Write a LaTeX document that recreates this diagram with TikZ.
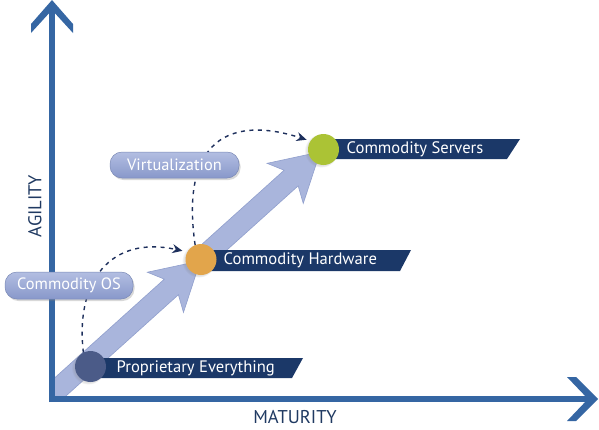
\documentclass[tikz,border=0pt]{standalone}
\usepackage{fontspec}
\setmainfont{PT Sans}
\usetikzlibrary{arrows.meta,shadows}
\definecolor{axisblue}{HTML}{3566A3}
\definecolor{banner}{HTML}{1B3868}
\definecolor{navytext}{HTML}{203A62}
\definecolor{dashnavy}{HTML}{1D2F5C}
\definecolor{dotone}{HTML}{4B5B88}
\definecolor{dottwo}{HTML}{E2A54B}
\definecolor{dotthree}{HTML}{ABC335}
\definecolor{bigarrow}{HTML}{A9B5DC}
\definecolor{bigarrowedge}{HTML}{909FCD}
\definecolor{boxtop}{HTML}{B3BEE2}
\definecolor{boxbot}{HTML}{8898CA}
\tikzset{
  axisline/.style={draw=axisblue, line width=6.5pt},
  axishead/.style={fill=axisblue},
  axislabel/.style={text=navytext, font=\fontsize{18.5}{18.5}\selectfont, inner sep=0pt},
  bannerbar/.style={fill=banner},
  bannertext/.style={text=white, font=\fontsize{16.6}{16.6}\selectfont, anchor=west, inner sep=0pt},
  dotnode/.style={circle, minimum size=31pt, inner sep=0pt, circular drop shadow={opacity=0.25, shadow xshift=-2pt, shadow yshift=-1pt}},
  labelbox/.style={rounded corners=12pt, top color=boxtop, bottom color=boxbot, draw=boxbot!90!black, line width=0.5pt,
     text=white, font=\fontsize{16.4}{16.4}\selectfont, inner sep=0pt,
     drop shadow={opacity=0.3, shadow xshift=1.5pt, shadow yshift=-2pt}},
  dasharrow/.style={draw=dashnavy, line width=1.4pt, dash pattern=on 4pt off 4.5pt, -{Stealth[length=10pt, width=9pt]}},
  bigarrowshape/.style={fill=bigarrow, draw=bigarrowedge, line width=0.6pt, line join=miter}
}
\newcommand\fatarrow[3]{% start, angle, length
  \begin{scope}[shift={#1}, rotate=#2]
    \path[bigarrowshape] (0,-10.5) -- (#3-39,-10.5) -- (#3-47,-27) -- (#3,0) -- (#3-47,27) -- (#3-39,10.5) -- (0,10.5) -- cycle;
  \end{scope}}
\begin{document}
\begin{tikzpicture}[x=1pt,y=-1pt]
\useasboundingbox (0,0) rectangle (599,429);
\fill[white] (0,0) rectangle (599,429);

% big light arrows
\begin{scope}
  \clip (52,0) rectangle (599,398);
  \fatarrow{(48,398)}{42}{205}
\end{scope}
\fatarrow{(199,261)}{42}{163}

% axes
\draw[axisline] (52,402) -- (52,8);
\draw[axisline] (49,399) -- (592,399);
\path[axishead] (52,0) -- (73,24) -- (73,33) -- (52,10) -- (31,33) -- (31,24) -- cycle;
\path[axishead] (598,399) -- (576,377) -- (567,377) -- (588,399) -- (567,421) -- (576,421) -- cycle;
\node[axislabel, rotate=90] (agility) at (35,206) {AGILITY};
\node[axislabel] (maturity) at (295,417) {MATURITY};

% banners
\path[bannerbar] (95,358) -- (303,358) -- (292,378) -- (95,378) -- cycle;
\path[bannerbar] (205,250) -- (411,250) -- (400,271) -- (205,271) -- cycle;
\path[bannerbar] (325,139) -- (520,139) -- (507,159) -- (325,159) -- cycle;
\node[bannertext] (tprop) at (116.5,368) {Proprietary Everything};
\node[bannertext] (thw) at (223.5,260.5) {Commodity Hardware};
\node[bannertext] (tsrv) at (346.5,149) {Commodity Servers};

% dots
\node[dotnode, fill=dotone] (prop) at (90.5,366.5) {};
\node[dotnode, fill=dottwo] (hw) at (201,259.5) {};
\node[dotnode, fill=dotthree] (srv) at (323.5,149.5) {};

% dashed connectors
\draw[dasharrow, shorten >=5pt] (prop.117) .. controls (75,282) and (110,235) .. (hw.151);
\draw[dasharrow, shorten >=4pt] (hw.112) .. controls (180,140) and (230,115) .. (srv.147);

% label boxes
\node[labelbox, minimum width=129pt, minimum height=26pt] (virt) at (174.5,165) {Virtualization};
\node[labelbox, minimum width=128pt, minimum height=27pt] (cos) at (69,285.5) {Commodity OS};
\end{tikzpicture}
\end{document}
